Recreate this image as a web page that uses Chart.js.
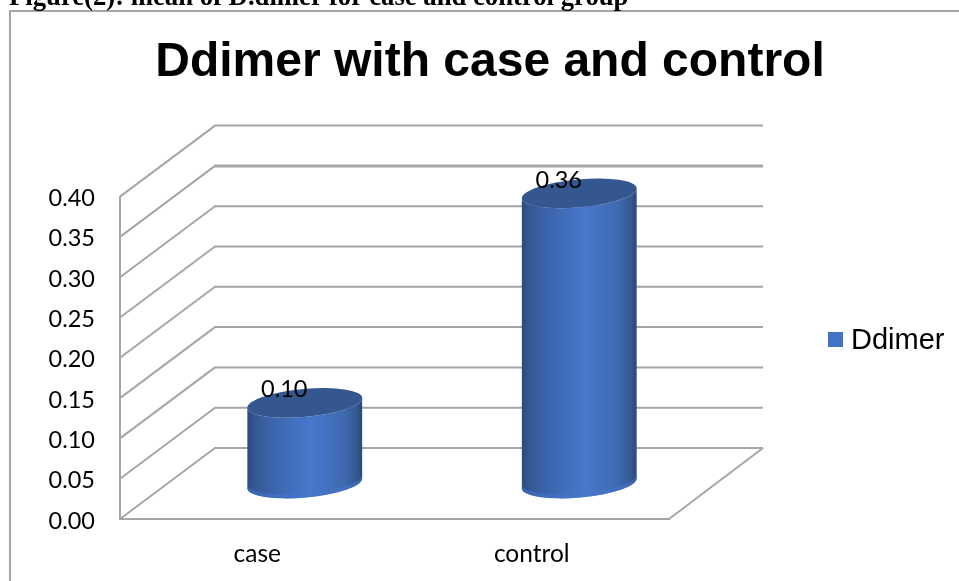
<!DOCTYPE html>
<html>
<head>
<meta charset="utf-8">
<title>Ddimer with case and control</title>
<script src="https://cdn.jsdelivr.net/npm/chart.js@4/dist/chart.umd.min.js"></script>
<style>
    html, body { margin: 0; padding: 0; background: #fff; overflow: hidden; }
    #page { position: relative; width: 959px; height: 581px; overflow: hidden; }
    #chart { position: absolute; left: 0; top: 0; }
    #caption {
        position: absolute; left: 9px; top: -19px; white-space: nowrap;
        font: bold 26.7px "Liberation Serif", serif; color: #000; line-height: 30px;
    }
    #frame {
        position: absolute; left: 9px; top: 10px; right: 0; bottom: 0;
        border-left: 2px solid #a6a6a6; border-top: 2px solid #a6a6a6;
    }
</style>
</head>
<body>
<div id="page">
    <canvas id="chart" width="959" height="581"></canvas>
    <div id="frame"></div>
    <div id="caption">Figure(2): mean of D.dimer for case and control group</div>
</div>
<script>
const categories = ['case', 'control'];
const ddimerValues = [0.10, 0.36];
const seriesName = 'Ddimer';
const chartTitle = 'Ddimer with case and control';

const GRID = '#a6a6a6';
const BLUE = '#4472c4';
const LABEL_FONT = 'Lato, "Open Sans", sans-serif';
// 3d box depth, the back wall sits this far from the front plane
const DEPTH_X = 95;
const DEPTH_Y = -71;

// back wall, left wall and floor of the 3d box
const wallPlugin = {
    id: 'wall3d',
    beforeDatasetsDraw(chart) {
        const { ctx, chartArea, scales } = chart;
        const { left, right, bottom } = chartArea;
        ctx.save();
        ctx.strokeStyle = GRID;
        scales.y.ticks.forEach((tick, i) => {
            const y = scales.y.getPixelForValue(tick.value);
            ctx.lineWidth = 2;
            ctx.beginPath();
            ctx.moveTo(left, y);
            ctx.lineTo(left + DEPTH_X, y + DEPTH_Y);
            ctx.stroke();
            // the 0.35 line on the back wall is a bit heavier
            ctx.lineWidth = i === 7 ? 3 : 2;
            ctx.beginPath();
            ctx.moveTo(left + DEPTH_X - 1, y + DEPTH_Y);
            ctx.lineTo(right + DEPTH_X - 1, y + DEPTH_Y);
            ctx.stroke();
        });
        ctx.lineWidth = 2;
        ctx.beginPath();
        ctx.moveTo(right, bottom);
        ctx.lineTo(right + DEPTH_X - 1, bottom + DEPTH_Y);
        ctx.stroke();
        ctx.restore();
    },
};

function drawCylinder(ctx, bar) {
    const tilt = -0.09;
    const rx = bar.width / 2;
    const ry = 14;
    const cx = bar.x + DEPTH_X / 2;
    const top = bar.y + DEPTH_Y / 2;
    const base = bar.base + DEPTH_Y / 2;
    const dx = rx * Math.cos(tilt);
    const dy = rx * Math.sin(tilt);

    const body = ctx.createLinearGradient(cx - dx, 0, cx + dx, 0);
    body.addColorStop(0, '#2b4a80');
    body.addColorStop(0.06, '#33578f');
    body.addColorStop(0.2, '#3b63aa');
    body.addColorStop(0.55, '#4878cc');
    body.addColorStop(0.85, '#3f69af');
    body.addColorStop(0.95, '#34588f');
    body.addColorStop(1, '#2a4878');

    ctx.fillStyle = body;
    ctx.beginPath();
    ctx.ellipse(cx, base, rx, ry, tilt, 0, Math.PI);
    ctx.lineTo(cx - dx, top - dy);
    ctx.ellipse(cx, top, rx, ry, tilt, Math.PI, 0, true);
    ctx.closePath();
    ctx.fill();

    // lit rim along the bottom edge
    ctx.fillStyle = 'rgba(68, 118, 205, 0.55)';
    ctx.beginPath();
    ctx.ellipse(cx, base, rx, ry, tilt, 0, Math.PI);
    ctx.ellipse(cx, base - 4, rx, ry, tilt, Math.PI, 0, true);
    ctx.closePath();
    ctx.fill();

    ctx.fillStyle = '#34578f';
    ctx.beginPath();
    ctx.ellipse(cx, top, rx, ry, tilt, 0, Math.PI * 2);
    ctx.fill();
}

const cylinderPlugin = {
    id: 'cylinders',
    afterDatasetsDraw(chart) {
        const { ctx } = chart;
        const bars = chart.getDatasetMeta(0).data;
        const values = chart.data.datasets[0].data;
        ctx.save();
        bars.forEach((bar) => drawCylinder(ctx, bar));
        // value labels sit over the cylinder tops
        ctx.fillStyle = '#000';
        ctx.font = '23.5px ' + LABEL_FONT;
        ctx.textAlign = 'center';
        ctx.textBaseline = 'middle';
        bars.forEach((bar, i) => {
            ctx.fillText(values[i].toFixed(2), bar.x + 27, bar.y + DEPTH_Y / 2 - 13);
        });
        ctx.restore();
    },
};

const legendPlugin = {
    id: 'sideLegend',
    afterDraw(chart) {
        const { ctx } = chart;
        ctx.save();
        ctx.fillStyle = BLUE;
        ctx.fillRect(828, 332, 15, 15);
        ctx.fillStyle = '#000';
        ctx.font = '29px "Liberation Sans", Arial, sans-serif';
        ctx.textBaseline = 'middle';
        ctx.fillText(chart.data.datasets[0].label, 851, 341);
        ctx.restore();
    },
};

new Chart(document.getElementById('chart').getContext('2d'), {
    type: 'bar',
    data: {
        labels: categories,
        datasets: [
            {
                label: seriesName,
                data: ddimerValues,
                backgroundColor: 'rgba(0,0,0,0)',
                categoryPercentage: 1,
                barPercentage: 0.42,
            },
        ],
    },
    options: {
        responsive: false,
        animation: false,
        layout: { padding: { left: 21 } },
        plugins: {
            legend: { display: false },
            tooltip: { enabled: false },
            title: {
                display: true,
                text: chartTitle,
                color: '#000',
                font: { family: '"Liberation Sans", Arial, sans-serif', size: 48, weight: 'bold' },
                padding: { top: 34, bottom: 105 },
            },
        },
        scales: {
            x: {
                grid: { display: false },
                border: { display: true, color: GRID, width: 2 },
                ticks: { color: '#000', font: { family: LABEL_FONT, size: 24.5 }, padding: 12, maxRotation: 0 },
                afterFit(scale) { scale.height = 62; },
            },
            y: {
                min: 0,
                max: 0.4,
                grid: { display: false },
                border: { display: true, color: GRID, width: 2 },
                ticks: {
                    stepSize: 0.05,
                    color: '#000',
                    font: { family: LABEL_FONT, size: 23.5 },
                    padding: 17,
                    labelOffset: 2,
                    callback: (v) => v.toFixed(2),
                },
                afterFit(scale) { scale.width = 99; },
            },
            // empty axis, only keeps the gutter free on the right for the legend
            gutter: {
                position: 'right',
                grid: { display: false },
                border: { display: false },
                ticks: { display: false },
                afterFit(scale) { scale.width = 290; },
            },
        },
    },
    plugins: [wallPlugin, cylinderPlugin, legendPlugin],
});
</script>
</body>
</html>
